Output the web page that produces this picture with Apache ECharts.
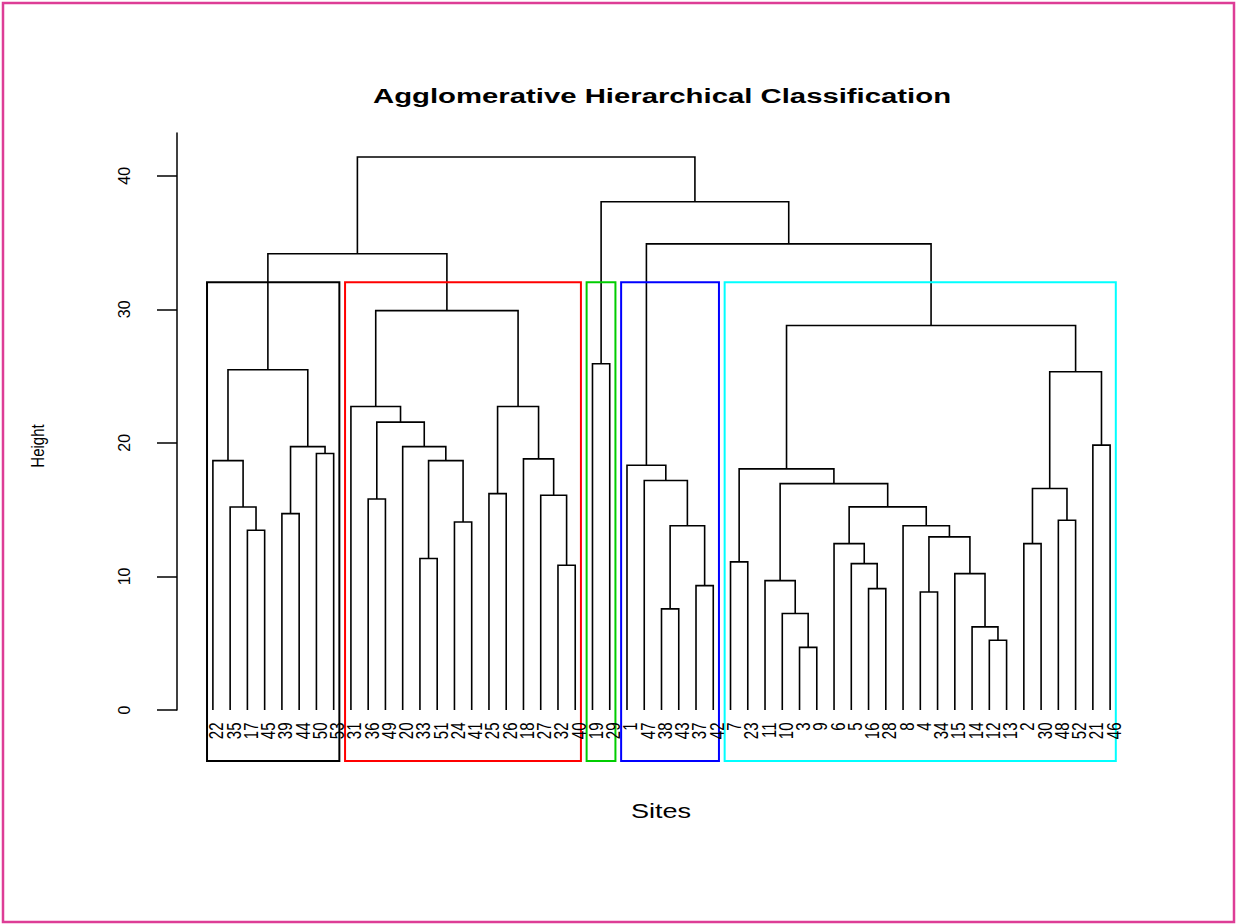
<!DOCTYPE html>
<html>
<head>
<meta charset="utf-8">
<script src="https://cdn.jsdelivr.net/npm/echarts@6/dist/echarts.min.js"></script>
<style>html,body{margin:0;padding:0;background:#fff}#c{width:1237px;height:924px}</style>
</head>
<body>
<div id="c"></div>
<script>
// ---- data (R hclust style: negative = site id, positive = merge step) ----
const sites = [22,35,17,45,39,44,50,53,31,36,49,20,33,51,24,41,25,26,18,27,32,40,19,29,1,47,38,43,37,42,7,23,11,10,3,9,6,5,16,28,8,4,34,15,14,12,13,2,30,48,52,21,46];
const mergeLeft  = [-3,-12,-14,-10,-38,-4,-16,-37,-11,-15,-32,-5,-7,-33,-6,-2,6,-17,-8,5,-24,-48,-39,-35,15,-36,-27,-25,16,9,-47,13,-1,14,-22,-18,-50,23,-20,-21,26,-31,28,29,35,-19,32,42,45,33,46,49];
const mergeRight = [-9,-13,2,1,-43,-34,-28,-42,4,3,-40,7,-23,-51,12,-30,10,-45,17,8,-41,-52,-44,18,19,-49,11,-26,22,25,20,30,31,21,24,27,-53,37,34,-46,39,41,36,40,38,-29,44,43,48,47,50,51];
const mergeHeight = [4.69,5.22,6.22,7.22,7.57,8.84,9.09,9.31,9.69,10.21,10.84,10.96,11.09,11.34,12.46,12.46,12.96,13.46,13.8,13.8,14.08,14.21,14.7,15.2,15.21,15.8,16.08,16.2,16.58,16.95,17.18,18.05,18.33,18.67,18.67,18.8,19.2,19.72,19.72,19.83,21.55,22.72,22.72,25.32,25.47,25.92,28.79,29.9,34.16,34.9,38.05,41.4];
const yTicks = [0, 10, 20, 30, 40];
const nClusters = 5;

// ---- styles / layout ----
const FONT = '"Liberation Sans", Arial, Helvetica, sans-serif';
const boxColors = ['#000000', '#FF0000', '#00CD00', '#0000FF', '#00FFFF'];
const yMax = 43.2;
const plotBottom = -3.82;

// ---- derived geometry (in data units) ----
const n = sites.length;
const posOf = {};
sites.forEach((s, i) => { posOf[s] = i + 1; });
const nodeX = [], nodeH = [];
const cx = c => c < 0 ? posOf[-c] : nodeX[c - 1];
const ch = c => c < 0 ? 0 : nodeH[c - 1];
const segs = [];
for (let i = 0; i < mergeHeight.length; i++) {
  const l = mergeLeft[i], r = mergeRight[i], h = mergeHeight[i];
  const xl = cx(l), xr = cx(r);
  nodeX.push((xl + xr) / 2); nodeH.push(h);
  segs.push([xl, ch(l), xr, ch(r), h]);
}
const sortedH = mergeHeight.slice().sort((a, b) => b - a);
const cutH = (sortedH[nClusters - 2] + sortedH[nClusters - 1]) / 2;
const leavesOf = c => c < 0 ? [posOf[-c]] : leavesOf(mergeLeft[c - 1]).concat(leavesOf(mergeRight[c - 1]));
const boxes = [];
(function cut(c) {
  if (c > 0 && mergeHeight[c - 1] > cutH) { cut(mergeLeft[c - 1]); cut(mergeRight[c - 1]); }
  else { const lv = leavesOf(c); boxes.push([Math.min(...lv) - 0.34, Math.max(...lv) + 0.33, cutH, plotBottom]); }
})(mergeHeight.length);
const xMin = 1 - 0.04 * (n - 1), xMax = n + 0.04 * (n - 1);

const chart = echarts.init(document.getElementById('c'), null, { renderer: 'svg' });
chart.setOption({
  animation: false,
  backgroundColor: '#ffffff',
  grid: { left: 177, right: 91, top: 133, bottom: 214 },
  xAxis: { type: 'value', min: xMin, max: xMax, show: false },
  yAxis: {
    type: 'value', min: 0, max: yMax,
    splitLine: { show: false },
    axisLine: { show: true, onZero: false, lineStyle: { color: '#000', width: 1.5 } },
    axisTick: { show: true, length: 20, customValues: yTicks, lineStyle: { color: '#000', width: 1.5 } },
    axisLabel: { customValues: yTicks, rotate: 90, margin: 45, fontSize: 16, color: '#000', fontFamily: FONT }
  },
  graphic: [
    { type: 'rect', shape: { x: 3, y: 3, width: 1231, height: 919 }, style: { fill: null, stroke: '#dd3d96', lineWidth: 2.5 }, silent: true },
    { type: 'text', x: 662, y: 95.5, scaleX: 1.43, style: { text: 'Agglomerative Hierarchical Classification', font: 'bold 20.5px ' + FONT, fill: '#000', align: 'center', verticalAlign: 'middle' } },
    { type: 'text', x: 661, y: 811, scaleX: 1.29, style: { text: 'Sites', font: '21px ' + FONT, fill: '#000', align: 'center', verticalAlign: 'middle' } },
    { type: 'text', x: 38, y: 446, rotation: Math.PI / 2, scaleY: 1.2, style: { text: 'Height', font: '15px ' + FONT, fill: '#000', align: 'center', verticalAlign: 'middle' } }
  ],
  series: [
    {
      type: 'custom', clip: false, silent: true, data: segs,
      renderItem: function (params, api) {
        const a = api.coord([api.value(0), api.value(1)]);
        const b = api.coord([api.value(0), api.value(4)]);
        const c = api.coord([api.value(2), api.value(4)]);
        const d = api.coord([api.value(2), api.value(3)]);
        return { type: 'polyline', shape: { points: [a, b, c, d] }, style: { stroke: '#000', lineWidth: 1.6, fill: null } };
      }
    },
    {
      type: 'custom', clip: false, silent: true, data: boxes,
      renderItem: function (params, api) {
        const p1 = api.coord([api.value(0), api.value(2)]);
        const p2 = api.coord([api.value(1), api.value(3)]);
        return { type: 'rect', shape: { x: p1[0], y: p1[1], width: p2[0] - p1[0], height: p2[1] - p1[1] },
          style: { stroke: boxColors[params.dataIndex % boxColors.length], lineWidth: 2, fill: null } };
      }
    },
    {
      type: 'custom', clip: false, silent: true, data: sites.map((s, i) => [i + 1, 0]),
      renderItem: function (params, api) {
        const p = api.coord([api.value(0), api.value(1)]);
        return { type: 'text', x: p[0] + 3, y: p[1] + 12.5, rotation: Math.PI / 2, scaleY: 1.4,
          style: { text: String(sites[params.dataIndex]), font: '15px ' + FONT, fill: '#000', align: 'right', verticalAlign: 'middle' } };
      }
    }
  ]
});
</script>
</body>
</html>
